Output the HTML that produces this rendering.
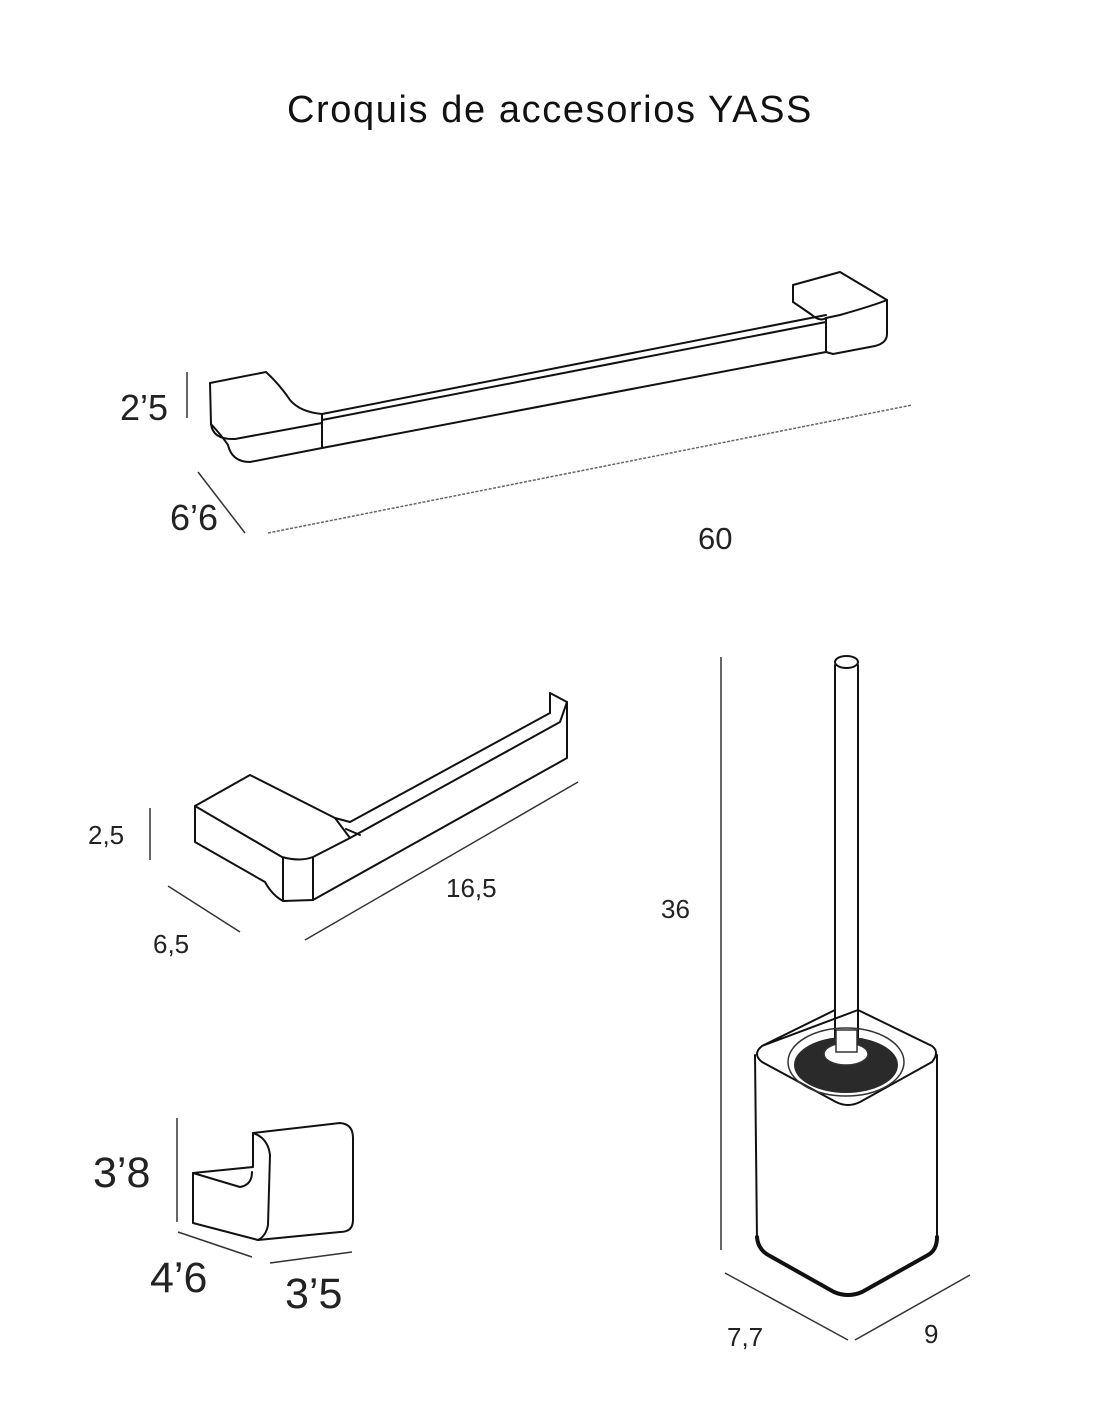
<!DOCTYPE html>
<html><head><meta charset="utf-8"><style>
html,body{margin:0;padding:0;background:#fff;}
svg{display:block;}
text{font-family:"Liberation Sans",sans-serif;fill:#222;}
</style></head><body>
<svg width="1100" height="1422" viewBox="0 0 1100 1422" xmlns="http://www.w3.org/2000/svg">
<text x="550" y="122" text-anchor="middle" font-size="38" letter-spacing="1.6" style="fill:#111">Croquis de accesorios YASS</text>

<g fill="none" stroke="#111" stroke-width="2" stroke-linejoin="round" stroke-linecap="round">
<!-- towel bar -->
<path d="M210,383 L266,372 Q280,385 290,400 Q300,412 322,414"/>
<path d="M210,383 L211,424 Q213,440 235,439 L322,423"/>
<path d="M211,424 Q222,436 228,445 Q232,462 250,462 L322,448 L322,414"/>
<path d="M322,414 L826,315"/>
<path d="M322,420 L826,322"/>
<path d="M322,448 L826,352"/>
<path d="M793,285 L840,272 L887,300 L887,334 Q887,343 875,346 L833,354 L826,352 L826,318"/>
<path d="M793,285 L793,302 Q802,308 812,315 Q820,322 826,318 L840,315 Q875,305 887,300"/>
<!-- paper holder -->
<path d="M195,806 L250,775 L335,818 L350,822 L550,713"/>
<path d="M195,806 L282,857 Q300,862 313,857 L350,838 L560,722 L567,702"/>
<path d="M195,806 L195,842 L265,882 Q272,895 283,901 L313,900 L567,758 L567,702 L550,693 L550,713"/>
<path d="M283,858 L283,901 M313,858 L313,900"/>
<path d="M335,818 L350,838 M346,829 L360,835"/>
<!-- hook -->
<path d="M253,1133 L340,1123 Q353,1124 353,1138 L353,1220 Q353,1232 340,1232 L258,1240"/>
<path d="M253,1133 Q268,1138 270,1155 L268,1225 Q266,1236 258,1240"/>
<path d="M253,1133 L253,1167 L193,1173 L193,1223 L258,1240"/>
<path d="M193,1173 L240,1187 Q252,1185 252,1172"/>
<!-- brush -->
<path d="M835,665 L835,1040 M858,665 L858,1040"/>
<ellipse cx="846.5" cy="662" rx="11.5" ry="6"/>
<path d="M762,1046 L835,1010 M858,1010 L932,1046 Q940,1052 932,1062 L860,1102 Q848,1108 836,1102 L762,1062 Q752,1054 762,1046 Z"/>
<path d="M755,1055 L757,1240 Q758,1250 770,1256 L834,1292 Q848,1298 862,1292 L928,1255 Q937,1250 937,1240 L937,1055"/>
<path d="M757,1237 Q758,1250 770,1256 L834,1292 Q848,1298 862,1292 L928,1255 Q937,1250 937,1237" stroke-width="4"/>
</g>
<ellipse cx="846" cy="1062" rx="58" ry="34" fill="none" stroke="#333" stroke-width="1.5"/>
<ellipse cx="846" cy="1065" rx="52" ry="28" fill="#2a2a2a"/>
<ellipse cx="846" cy="1054" rx="22" ry="11" fill="#fff" stroke="#333" stroke-width="1.5"/>
<rect x="836" y="1030" width="21" height="22" fill="#fff" stroke="#333" stroke-width="1.5"/>

<!-- dimension lines -->
<g fill="none" stroke="#333" stroke-width="1.5">
<path d="M187,372 L187,418"/>
<path d="M198,472 L245,533"/>
<path d="M268,533 L912,405" stroke-dasharray="3 1.5" stroke="#666"/>
<path d="M150,808 L150,860"/>
<path d="M168,886 L240,932"/>
<path d="M305,940 L578,782"/>
<path d="M177,1118 L177,1222"/>
<path d="M178,1232 L252,1257"/>
<path d="M270,1263 L352,1252"/>
<path d="M721,657 L721,1250"/>
<path d="M725,1273 L848,1340"/>
<path d="M855,1340 L970,1275"/>
</g>

<text x="120" y="420" font-size="36">2’5</text>
<text x="170" y="530" font-size="36">6’6</text>
<text x="698" y="549" font-size="31">60</text>
<text x="88" y="844" font-size="26">2,5</text>
<text x="153" y="953" font-size="26">6,5</text>
<text x="446" y="897" font-size="26">16,5</text>
<text x="93" y="1187" font-size="43">3’8</text>
<text x="150" y="1292" font-size="43">4’6</text>
<text x="285" y="1308" font-size="43">3’5</text>
<text x="661" y="918" font-size="26">36</text>
<text x="727" y="1346" font-size="26">7,7</text>
<text x="924" y="1343" font-size="26">9</text>
</svg>
</body></html>
